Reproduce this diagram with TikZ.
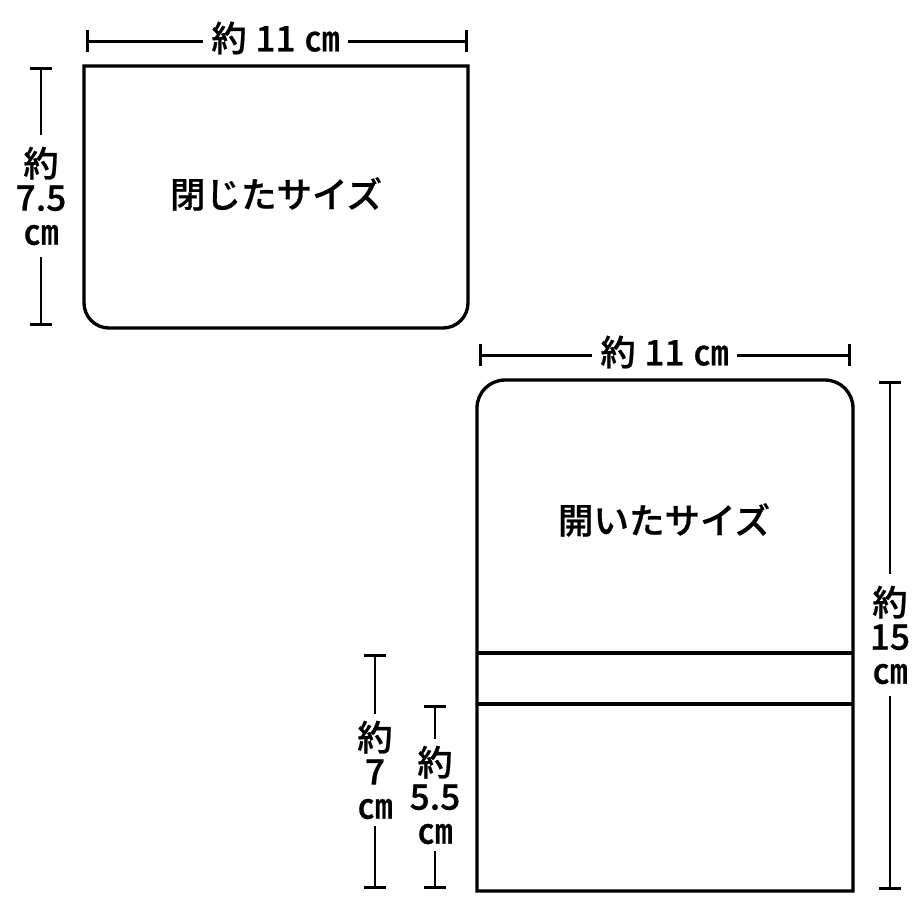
\documentclass[tikz,border=0pt]{standalone}
\usepackage{fontspec}
\usepackage{tikz}
\usetikzlibrary{arrows.meta}
\newfontfamily\jpfont[FakeBold=0.7]{Noto Sans CJK JP Medium}

\tikzset{
    sizebox/.style={line width=0.95pt, black},
    dimline/.style={line width=0.85pt, black, {Bar[width=6pt,line width=0.85pt]}-},
    dimlabel/.style={font=\jpfont\fontsize{10}{9.7}\selectfont, align=center, inner sep=0pt, outer sep=0pt},
    sizelabel/.style={font=\jpfont\fontsize{10.1}{12}\selectfont, inner sep=0pt}
}

\begin{document}
\begin{tikzpicture}[x=0.01cm, y=-0.01cm]
            \useasboundingbox (0,0) rectangle (920,920);

            % Closed pouch
            \draw[sizebox] (84,66) -- (468,66) [rounded corners=0.25cm] -- (468,328) -- (84,328) [sharp corners] -- cycle;
            \node[sizelabel] (closedname) at (276,194) {閉じたサイズ};

            % Open pouch
            \draw[sizebox] (477,891) [rounded corners=0.28cm] -- (477,380) -- (853,380) [sharp corners] -- (853,891) -- cycle;
            \draw[sizebox] (477,653) -- (853,653);
            \draw[sizebox] (477,704) -- (853,704);
            \node[sizelabel] (openname) at (664,520) {開いたサイズ};

            % Width dimensions
            \foreach \n/\xa/\xb/\y/\lx in {closedw/86/468/41/275.5, openw/479/851/355/664.5}{
            \coordinate (\n a) at (\xa,\y);
            \coordinate (\n b) at (\xb,\y);
            \node[dimlabel, minimum width=1.45cm] (\n) at (\lx,\y-3) {約\hspace{0.25em}11\hspace{0.25em}㎝};
            \draw[dimline] (\n a) -- (\n a -| \n.west);
            \draw[dimline] (\n b) -- (\n b -| \n.east);
            }

            % Height dimensions
            \foreach \n/\x/\ya/\yb/\ly/\lh/\txt in {closedh/41/67/326/196/1.21cm/{約\\7.5\\㎝}, fullh/890/381/890/635/1.21cm/{約\\15\\㎝}, sevenh/375/654/889/770/1.12cm/{約\\7\\㎝}, fiveh/435/705/889/795/1.12cm/{約\\5.5\\㎝}}{
            \coordinate (\n a) at (\x,\ya);
            \coordinate (\n b) at (\x,\yb);
            \node[dimlabel, minimum height=\lh] (\n) at (\x,\ly) {\txt};
            \draw[dimline] (\n a) -- (\n a |- \n.north);
            \draw[dimline] (\n b) -- (\n b |- \n.south);
            }
        \end{tikzpicture}
\end{document}
